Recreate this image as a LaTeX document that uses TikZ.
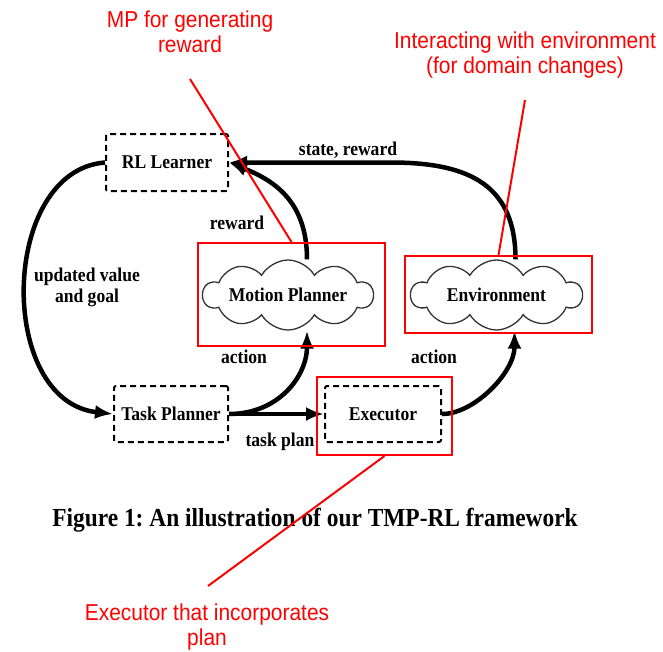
\documentclass[tikz,border=0pt]{standalone}
\usepackage{fontspec}
\setmainfont{Liberation Serif}[FakeStretch=0.9]
\newfontfamily\redfont{Liberation Sans}[FakeStretch=0.91]
\usetikzlibrary{shapes.symbols,arrows.meta}
\begin{document}
\frenchspacing
\begin{tikzpicture}[x=1pt,y=-1pt,
  lbl/.style={font=\fontsize{19.5}{21}\selectfont\bfseries, inner sep=0pt, align=center},
  dbox/.style={draw, dashed, dash pattern=on 6pt off 4pt, line width=2pt, rounded corners=2pt, minimum height=56pt, inner sep=0pt, lbl},
  cloudnode/.style={cloud, cloud puffs=10, cloud puff arc=120, shape border rotate=10, cloud ignores aspect, draw=black!80, line width=1.3pt, minimum width=170pt, minimum height=70pt, inner sep=0pt, lbl},
  flow/.style={line width=4.5pt, -{Latex[length=18pt,width=14pt]}},
  redbox/.style={draw=red, line width=2pt, inner sep=0pt},
  redline/.style={red, line width=2pt},
  redtxt/.style={text=red, font=\redfont\fontsize{23}{25}\selectfont, align=center, inner sep=0pt},
  captxt/.style={font=\fontsize{26}{28}\selectfont\bfseries, inner sep=0pt},
]
\useasboundingbox (0,0) rectangle (663,651);
\fill[white] (0,0) rectangle (663,651);

% main nodes
\node[dbox, minimum width=122pt, minimum height=57pt] (rl) at (167,162.5) {RL Learner};
\node[dbox, minimum width=114pt] (tp) at (171,414) {Task Planner};
\node[dbox, minimum width=116pt] (exe) at (383,414) {Executor};
\node[cloudnode] (mp) at (288,295) {Motion Planner};
\node[cloudnode, minimum width=171pt] (env) at (496.5,295) {Environment};

% labels
\node[lbl] (lsr) at (348,150) {state, reward};
\node[lbl] (lrw) at (237,223) {reward};
\node[lbl] (lug) at (87,287) {updated value\\and goal};
\node[lbl] (la1) at (244,357) {action};
\node[lbl] (la2) at (434,357) {action};
\node[lbl] (ltp) at (280,442) {task plan};
\node[captxt] (cap) at (315,520) {Figure 1: An illustration of our TMP-RL framework};

% connectors
\draw[flow] (rl.west) .. controls +(-105,8) and +(-117,-13) .. (tp.west);
\draw[flow] ([xshift=19pt]env.north) .. controls +(0,-73) and +(80,0) .. ([xshift=162pt]rl.east) -- (rl.east);
\draw[flow] ([xshift=19pt]mp.north) .. controls +(0,-58) and +(45,18) .. (rl.east);
\draw[flow] (tp.east) -- (exe.west);
\draw[flow] (tp.east) .. controls +(50,0) and +(0,45) .. ([xshift=19pt]mp.south);
\draw[flow] (exe.east) .. controls +(32,0) and +(0,42) .. ([xshift=18pt]env.south);

% red annotations
\node[redbox, minimum width=187pt, minimum height=103pt] (mpr) at (291.5,294.5) {};
\node[redbox, minimum width=187pt, minimum height=77pt] (envr) at (498.5,294.5) {};
\node[redbox, minimum width=135pt, minimum height=78pt] (exr) at (384.5,416) {};

\node[redtxt] (t1) at (190,32) {MP for generating\\reward};
\node[redtxt] (t2) at (525,55) {Interacting with environment\\(for domain changes)};
\node[redtxt] (t3) at (207,627) {Executor that incorporates\\plan};

\coordinate (a1) at (190,79);
\coordinate (a2) at (525,100);
\coordinate (a3) at (208,586);
\draw[redline] (a1) -- (mpr.north);
\draw[redline] (a2) -- (envr.north);
\draw[redline] (exr.south) -- (a3);
\end{tikzpicture}
\end{document}
